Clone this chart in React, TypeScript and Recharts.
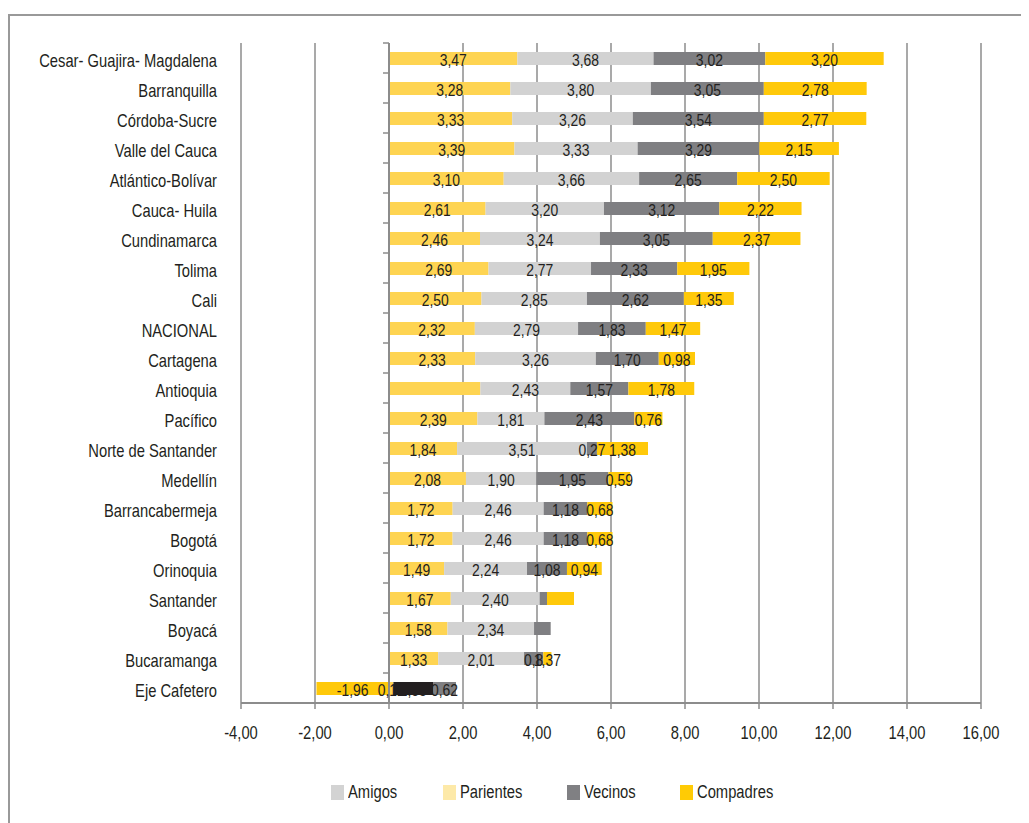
import React from "react";
import { BarChart, Bar, XAxis, YAxis, CartesianGrid, LabelList, Cell, ReferenceLine } from "recharts";

const categories = [
  "Cesar- Guajira- Magdalena", "Barranquilla", "Córdoba-Sucre", "Valle del Cauca", "Atlántico-Bolívar",
  "Cauca- Huila", "Cundinamarca", "Tolima", "Cali", "NACIONAL", "Cartagena", "Antioquia", "Pacífico",
  "Norte de Santander", "Medellín", "Barrancabermeja", "Bogotá", "Orinoquia", "Santander", "Boyacá",
  "Bucaramanga", "Eje Cafetero",
];
const parientes = [3.47, 3.28, 3.33, 3.39, 3.10, 2.61, 2.46, 2.69, 2.50, 2.32, 2.33, 2.47, 2.39, 1.84, 2.08, 1.72, 1.72, 1.49, 1.67, 1.58, 1.33, 0.12];
const amigos = [3.68, 3.80, 3.26, 3.33, 3.66, 3.20, 3.24, 2.77, 2.85, 2.79, 3.26, 2.43, 1.81, 3.51, 1.90, 2.46, 2.46, 2.24, 2.40, 2.34, 2.32, 1.07];
const vecinos = [3.02, 3.05, 3.54, 3.29, 2.65, 3.12, 3.05, 2.33, 2.62, 1.83, 1.70, 1.57, 2.43, 0.27, 1.95, 1.18, 1.18, 1.08, 0.20, 0.45, 0.52, 0.62];
const compadres = [3.20, 2.78, 2.77, 2.15, 2.50, 2.22, 2.37, 1.95, 1.35, 1.47, 0.98, 1.78, 0.76, 1.38, 0.59, 0.68, 0.68, 0.94, 0.73, null, 0.22, -1.96];
const xTicks = [-4, -2, 0, 2, 4, 6, 8, 10, 12, 14, 16];

const labelOverrides: Record<string, string> = {
  "Bucaramanga|amigos": "2,01",
  "Bucaramanga|vecinos": "0,8",
  "Bucaramanga|compadres": "1,37",
  "Eje Cafetero|amigos": "2,83",
};
const hiddenLabels = [
  "Antioquia|parientes", "Santander|vecinos", "Santander|compadres", "Boyacá|vecinos", "Boyacá|compadres",
];
const legendNames = ["Amigos", "Parientes", "Vecinos", "Compadres"];
const legendColors = ["#d3d3d3", "#fde9a8", "#808083", "#ffcb05"];

const COLORS = {
  parientes: "#fed452",
  amigos: "#d2d2d2",
  vecinos: "#7f7f82",
  compadres: "#ffc90a",
  dark: "#231f20",
};
const FONT = "'Liberation Sans', Arial, sans-serif";
const SX = 0.82;
const TEXT = "#231f20";
const GRID = "#8c8c8c";

const fmt = (v: number) => v.toFixed(2).replace(".", ",");

const labelFor = (name: string, key: string, v: number | null) => {
  const id = name + "|" + key;
  if (v === null || v === 0 || hiddenLabels.includes(id)) return "";
  return labelOverrides[id] ?? fmt(v);
};

const data = categories.map((name, i) => ({
  name,
  parientes: parientes[i],
  amigos: amigos[i],
  vecinos: vecinos[i],
  compadres: compadres[i],
  parientesLabel: labelFor(name, "parientes", parientes[i]),
  amigosLabel: labelFor(name, "amigos", amigos[i]),
  vecinosLabel: labelFor(name, "vecinos", vecinos[i]),
  compadresLabel: labelFor(name, "compadres", compadres[i]),
}));

const NarrowText = ({ x, y, anchor, size, children, dy }: any) => (
  <g transform={`translate(${x},${y})`}>
    <text
      transform={`scale(${SX},1)`}
      x={0}
      y={0}
      dy={dy}
      textAnchor={anchor}
      dominantBaseline={dy ? undefined : "central"}
      fontFamily={FONT}
      fontSize={size}
      fill={TEXT}
    >
      {children}
    </text>
  </g>
);

const SegmentLabel = (props: any) => {
  const { x, y, width, height, value } = props;
  if (!value) return null;
  return (
    <NarrowText x={Number(x) + Number(width) / 2} y={Number(y) + Number(height) / 2 + 1} anchor="middle" size={17}>
      {value}
    </NarrowText>
  );
};

const YTick = (props: any) => {
  const { y, payload, index } = props;
  const axisX = 381;
  const half = 15;
  return (
    <g>
      <NarrowText x={209} y={y + 2} anchor="end" size={18}>
        {payload.value}
      </NarrowText>
      <line x1={axisX - 6} x2={axisX} y1={y - half} y2={y - half} stroke={GRID} strokeWidth={1.5} />
      {index === categories.length - 1 && (
        <line x1={axisX - 6} x2={axisX} y1={y + half} y2={y + half} stroke={GRID} strokeWidth={1.5} />
      )}
    </g>
  );
};

const XTick = (props: any) => {
  const { x, y, payload } = props;
  return (
    <NarrowText x={x} y={y} anchor="middle" size={18} dy="0.71em">
      {fmt(payload.value)}
    </NarrowText>
  );
};

const legendSlot = [112, 124, 113, 100];

export default function App() {
  return (
    <div style={{ position: "relative", width: 1021, height: 815, overflow: "hidden", background: "#fff" }}>
      <div
        style={{
          position: "absolute",
          left: 0,
          top: 6,
          width: 1100,
          height: 900,
          borderTop: "2px solid #999",
          borderLeft: "2px solid #999",
          boxSizing: "border-box",
        }}
      />
      <BarChart
        width={1021}
        height={815}
        data={data}
        layout="vertical"
        stackOffset="sign"
        margin={{ top: 35, right: 48, bottom: 90, left: 0 }}
        barSize={13}
      >
        <CartesianGrid horizontal={false} vertical stroke={GRID} strokeWidth={1.5} />
        <XAxis
          type="number"
          domain={[-4, 16]}
          ticks={xTicks}
          interval={0}
          height={30}
          axisLine={{ stroke: GRID, strokeWidth: 2 }}
          tickLine={{ stroke: GRID, strokeWidth: 1.5 }}
          tickSize={6}
          tickMargin={17}
          tick={<XTick />}
        />
        <YAxis
          type="category"
          dataKey="name"
          width={233}
          interval={0}
          axisLine={false}
          tickLine={false}
          tick={<YTick />}
        />
        <ReferenceLine x={0} stroke={GRID} strokeWidth={2} />
        <Bar dataKey="parientes" stackId="a" fill={COLORS.parientes} isAnimationActive={false}>
          <LabelList dataKey="parientesLabel" content={<SegmentLabel />} />
        </Bar>
        <Bar dataKey="amigos" stackId="a" fill={COLORS.amigos} isAnimationActive={false}>
          {data.map((d) => (
            <Cell key={d.name} fill={d.name === "Eje Cafetero" ? COLORS.dark : COLORS.amigos} />
          ))}
          <LabelList dataKey="amigosLabel" content={<SegmentLabel />} />
        </Bar>
        <Bar dataKey="vecinos" stackId="a" fill={COLORS.vecinos} isAnimationActive={false}>
          <LabelList dataKey="vecinosLabel" content={<SegmentLabel />} />
        </Bar>
        <Bar dataKey="compadres" stackId="a" fill={COLORS.compadres} isAnimationActive={false}>
          <LabelList dataKey="compadresLabel" content={<SegmentLabel />} />
        </Bar>
      </BarChart>
      <div
        style={{
          position: "absolute",
          left: 323,
          top: 775,
          display: "flex",
          alignItems: "center",
          fontFamily: FONT,
          fontSize: 18,
          color: TEXT,
          lineHeight: "18px",
        }}
      >
        {legendNames.map((name, i) => (
          <div key={name} style={{ display: "flex", alignItems: "center", width: legendSlot[i], whiteSpace: "nowrap" }}>
            <span style={{ display: "inline-block", width: 13, height: 15, background: legendColors[i], marginRight: 4, flex: "none" }} />
            <span style={{ display: "inline-block", transform: `scaleX(${SX})`, transformOrigin: "left center" }}>
              {name}
            </span>
          </div>
        ))}
      </div>
    </div>
  );
}
